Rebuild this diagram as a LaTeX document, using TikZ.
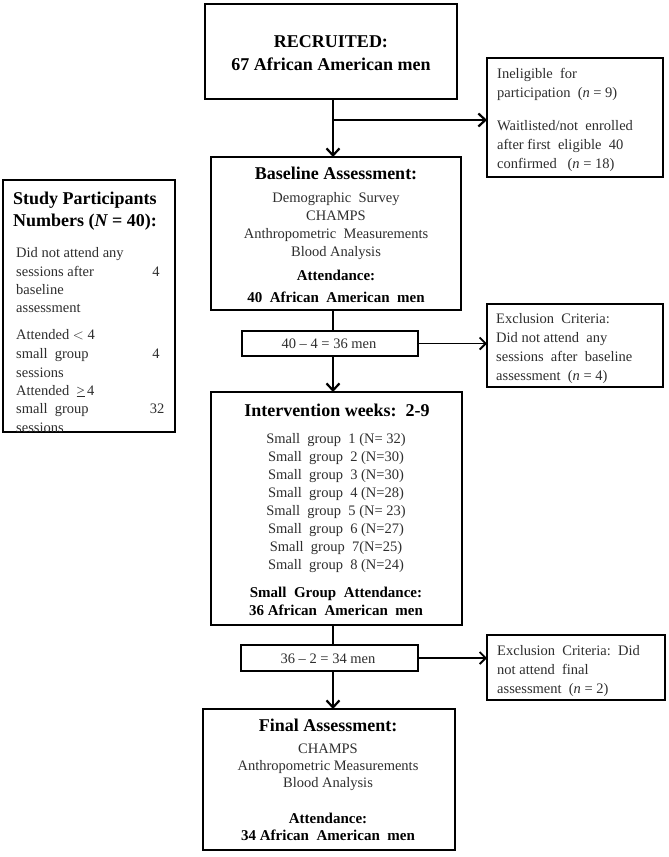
\documentclass[tikz,border=0pt]{standalone}
\usepackage{fontspec}
\setmainfont{Liberation Serif}
\usetikzlibrary{arrows.meta}
\begin{document}
\begin{tikzpicture}[x=1pt,y=-1pt,
  box/.style={draw, line width=2.6pt, inner sep=0pt, outer sep=0pt},
  thk/.style={line width=2.6pt},
  thn/.style={line width=1.6pt},
  arr/.style={-{Straight Barb[length=7pt,width=13pt,line width=2.2pt]}},
  arrthin/.style={-{Straight Barb[length=6pt,width=12pt,line width=1.8pt]}},
  body/.style={font=\fontsize{14.5}{17}\selectfont, text=black!82, inner sep=0pt, anchor=base},
  bodyl/.style={body, anchor=base west},
  head/.style={font=\fontsize{18}{21}\selectfont\bfseries, inner sep=0pt, anchor=base},
  headl/.style={head, anchor=base west},
  bsub/.style={font=\fontsize{15}{18}\selectfont\bfseries, inner sep=0pt, anchor=base}]
\useasboundingbox (0,0) rectangle (669,857);
\fill[white] (0,0) rectangle (669,857);

% boxes
\node[box, minimum width=252pt, minimum height=95pt] (top) at (331,51.5) {};
\node[box, minimum width=176pt, minimum height=119pt] (r1) at (575,117.5) {};
\node[box, minimum width=172pt, minimum height=252pt] (left) at (89,306) {};
\node[box, minimum width=250pt, minimum height=153pt] (base) at (336,233.5) {};
\node[box, minimum width=176pt, minimum height=25pt] (s1) at (330,343.5) {};
\node[box, minimum width=176pt, minimum height=83pt] (ex2) at (575,345.5) {};
\node[box, minimum width=251pt, minimum height=233pt] (intv) at (336.5,508.5) {};
\node[box, minimum width=177pt, minimum height=26pt] (s2) at (329.5,658) {};
\node[box, minimum width=178pt, minimum height=65pt] (ex3) at (576,667.5) {};
\node[box, minimum width=252pt, minimum height=141pt] (fin) at (329,779.5) {};

% connectors
\coordinate (axis) at (333,0);
\coordinate (br) at (333,120);
\draw[thk, arr] (top.south -| axis) -- (base.north -| axis);
\draw[line width=2.2pt, arr] (br) -- (br -| r1.west);
\draw[thk] (base.south -| axis) -- (s1.north -| axis);
\draw[thk, arr] (s1.south -| axis) -- (intv.north -| axis);
\draw[thn, arrthin] (s1.east) -- (s1.east -| ex2.west);
\draw[thk] (intv.south -| axis) -- (s2.north -| axis);
\draw[thk, arr] (s2.south -| axis) -- (fin.north -| axis);
\draw[thn, arrthin] (s2.east) -- (s2.east -| ex3.west);

% top box
\node[head] (t1) at (331,47) {RECRUITED:};
\node[head] (t2) at (331,70) {67 African American men};

% right box 1
\node[bodyl] (r1a) at (497,78) {Ineligible\ \ for};
\node[bodyl] (r1b) at (497,97) {participation\ \ ({\itshape n} = 9)};
\node[bodyl] (r1c) at (497,130) {Waitlisted/not\ \ enrolled};
\node[bodyl] (r1d) at (497,149) {after first\ \ eligible\ \ 40};
\node[bodyl] (r1e) at (497,168) {confirmed\ \ \ ({\itshape n} = 18)};

% left box
\node[headl] (l1) at (13,204) {Study Participants};
\node[headl] (l2) at (13,226) {Numbers ({\itshape N} = 40):};
\node[bodyl] (l3) at (16,257) {Did not attend any};
\node[bodyl] (l4) at (16,276) {sessions after};
\node[bodyl] (l5) at (16,294) {baseline};
\node[bodyl] (l6) at (16,312) {assessment};
\node[bodyl] (l7) at (16,339) {Attended $<$ 4};
\node[bodyl] (l8) at (16,358) {small\ \ group};
\node[bodyl] (l9) at (16,377) {sessions};
\node[bodyl] (l10) at (16,395) {Attended\ \ \underline{>}\,4};
\node[bodyl] (l11) at (16,413) {small\ \ group};
\node[bodyl] (l12) at (16,432) {sessions};
\node[body] (n1) at (156,276) {4};
\node[body] (n2) at (156,358) {4};
\node[body] (n3) at (157,413) {32};

% baseline box
\node[head] (b1) at (336,179) {Baseline Assessment:};
\node[body] (b2) at (336,202) {Demographic\ \ Survey};
\node[body] (b3) at (336,220) {CHAMPS};
\node[body] (b4) at (336,238) {Anthropometric\ \ Measurements};
\node[body] (b5) at (336,256) {Blood Analysis};
\node[bsub] (b6) at (336,280) {Attendance:};
\node[bsub] (b7) at (336,302) {40\ \ African\ \ American\ \ men};

% small boxes
\node[body] (s1t) at (329,348) {40 -- 4 = 36 men};
\node[body] (s2t) at (328,663) {36 -- 2 = 34 men};

% exclusion 2
\node[bodyl] (e2a) at (496,323) {Exclusion\ \ Criteria:};
\node[bodyl] (e2b) at (496,342) {Did not attend\ \ any};
\node[bodyl] (e2c) at (496,361) {sessions\ \ after\ \ baseline};
\node[bodyl] (e2d) at (496,380) {assessment\ \ ({\itshape n} = 4)};

% exclusion 3
\node[bodyl] (e3a) at (497,655) {Exclusion\ \ Criteria:\ \ Did};
\node[bodyl] (e3b) at (497,674) {not attend\ \ final};
\node[bodyl] (e3c) at (497,693) {assessment\ \ ({\itshape n} = 2)};

% intervention
\node[head] (i0) at (337,416) {Intervention weeks:\ \ 2-9};
\node[body] (i1) at (336,443) {Small\ \ group\ \ 1 (N= 32)};
\node[body] (i2) at (336,461) {Small\ \ group\ \ 2 (N=30)};
\node[body] (i3) at (336,479) {Small\ \ group\ \ 3 (N=30)};
\node[body] (i4) at (336,497) {Small\ \ group\ \ 4 (N=28)};
\node[body] (i5) at (336,515) {Small\ \ group\ \ 5 (N= 23)};
\node[body] (i6) at (336,533) {Small\ \ group\ \ 6 (N=27)};
\node[body] (i7) at (336,551) {Small\ \ group\ \ 7(N=25)};
\node[body] (i8) at (336,569) {Small\ \ group\ \ 8 (N=24)};
\node[bsub] (i9) at (336,597) {Small\ \ Group\ \ Attendance:};
\node[bsub] (i10) at (336,615) {36 African\ \ American\ \ men};

% final
\node[head] (f1) at (328,731) {Final Assessment:};
\node[body] (f2) at (328,753) {CHAMPS};
\node[body] (f3) at (328,770) {Anthropometric Measurements};
\node[body] (f4) at (328,787) {Blood Analysis};
\node[bsub] (f5) at (328,823) {Attendance:};
\node[bsub] (f6) at (328,840) {34 African\ \ American\ \ men};
\end{tikzpicture}
\end{document}
